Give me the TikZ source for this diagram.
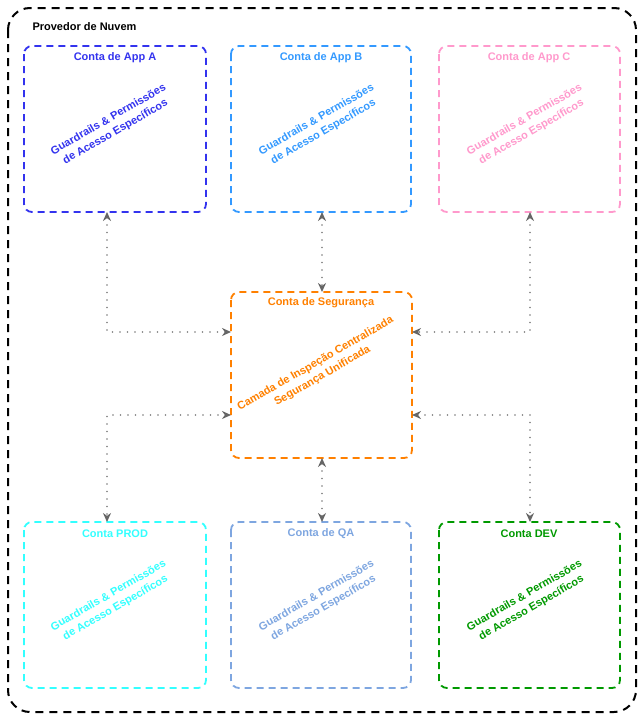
\documentclass[tikz,border=0pt]{standalone}
\usepackage{fontspec}
\setmainfont{Liberation Sans}
\usetikzlibrary{arrows.meta}
\definecolor{cA}{HTML}{3333EE}
\definecolor{cB}{HTML}{3399FF}
\definecolor{cC}{HTML}{FF99CC}
\definecolor{cS}{HTML}{FF8000}
\definecolor{cP}{HTML}{33FFFF}
\definecolor{cQ}{HTML}{7EA6E0}
\definecolor{cD}{HTML}{009900}
\definecolor{cL}{HTML}{7A7A7A}
\definecolor{cH}{HTML}{666666}
\begin{document}
\begin{tikzpicture}[x=1pt,y=-1pt,
  acct/.style={draw=#1, line width=1.8pt, dash pattern=on 7pt off 5pt, rounded corners=8pt},
  ttl/.style={text=#1, font=\fontsize{11}{13}\selectfont\bfseries, anchor=center},
  rot/.style={text=#1, font=\fontsize{11}{14}\selectfont\bfseries, rotate=30, align=center, anchor=center, inner sep=0pt},
  link/.style={draw=cL, line width=1.9pt, line cap=round, dash pattern=on 0pt off 7.5pt,
    {Stealth[length=9pt,width=8pt,color=cH,line cap=butt]}-{Stealth[length=9pt,width=8pt,color=cH,line cap=butt]}}
]
\useasboundingbox (0,0) rectangle (644,720);
% outer
\draw[line width=2pt, dash pattern=on 8pt off 6pt, rounded corners=22pt] (8,8) rectangle (636,712);
\node[anchor=west, font=\fontsize{11}{13}\selectfont\bfseries] (prov) at (29,27) {Provedor de Nuvem};
% boxes
\draw[acct=cA] (24,46) rectangle (206,212);
\coordinate (Ab) at (107,212);
\node[ttl=cA] (At) at (115,58) {Conta de App A};
\node[rot=cA] (Ar) at (112,126) {Guardrails \& Permissões\\de Acesso Específicos};

\draw[acct=cB] (231,46) rectangle (411,212);
\coordinate (Bb) at (322,212);
\node[ttl=cB] (Bt) at (321,58) {Conta de App B};
\node[rot=cB] (Br) at (320,126) {Guardrails \& Permissões\\de Acesso Específicos};

\draw[acct=cC] (439,46) rectangle (620,212);
\coordinate (Cb) at (530,212);
\node[ttl=cC] (Ct) at (529,58) {Conta de App C};
\node[rot=cC] (Cr) at (528,126) {Guardrails \& Permissões\\de Acesso Específicos};

\draw[acct=cS] (231,292) rectangle (412,458);
\node[ttl=cS] (St) at (321,303) {Conta de Segurança};
\node[rot=cS] (Sr) at (319,370) {Camada de Inspeção Centralizada\\Segurança Unificada};
\coordinate (Sl1) at (231,332);
\coordinate (Sr1) at (412,332);
\coordinate (Sl2) at (231,415);
\coordinate (Sr2) at (412,415);
\coordinate (Stop) at (322,292);
\coordinate (Sbot) at (322,458);

\draw[acct=cP] (24,522) rectangle (206,688);
\coordinate (Pt) at (107,522);
\node[ttl=cP] (Ptt) at (115,534) {Conta PROD};
\node[rot=cP] (Pr) at (112,602) {Guardrails \& Permissões\\de Acesso Específicos};

\draw[acct=cQ] (231,522) rectangle (411,688);
\coordinate (Qt) at (322,522);
\node[ttl=cQ] (Qtt) at (321,534) {Conta de QA};
\node[rot=cQ] (Qr) at (320,602) {Guardrails \& Permissões\\de Acesso Específicos};

\draw[acct=cD] (439,522) rectangle (620,688);
\coordinate (Dt) at (530,522);
\node[ttl=cD] (Dtt) at (529,534) {Conta DEV};
\node[rot=cD] (Dr) at (528,602) {Guardrails \& Permissões\\de Acesso Específicos};

% links
\draw[link] (Ab) |- (Sl1);
\draw[link] (Bb) -- (Stop);
\draw[link] (Cb) |- (Sr1);
\draw[link] (Sl2) -| (Pt);
\draw[link] (Sbot) -- (Qt);
\draw[link] (Sr2) -| (Dt);
\end{tikzpicture}
\end{document}
